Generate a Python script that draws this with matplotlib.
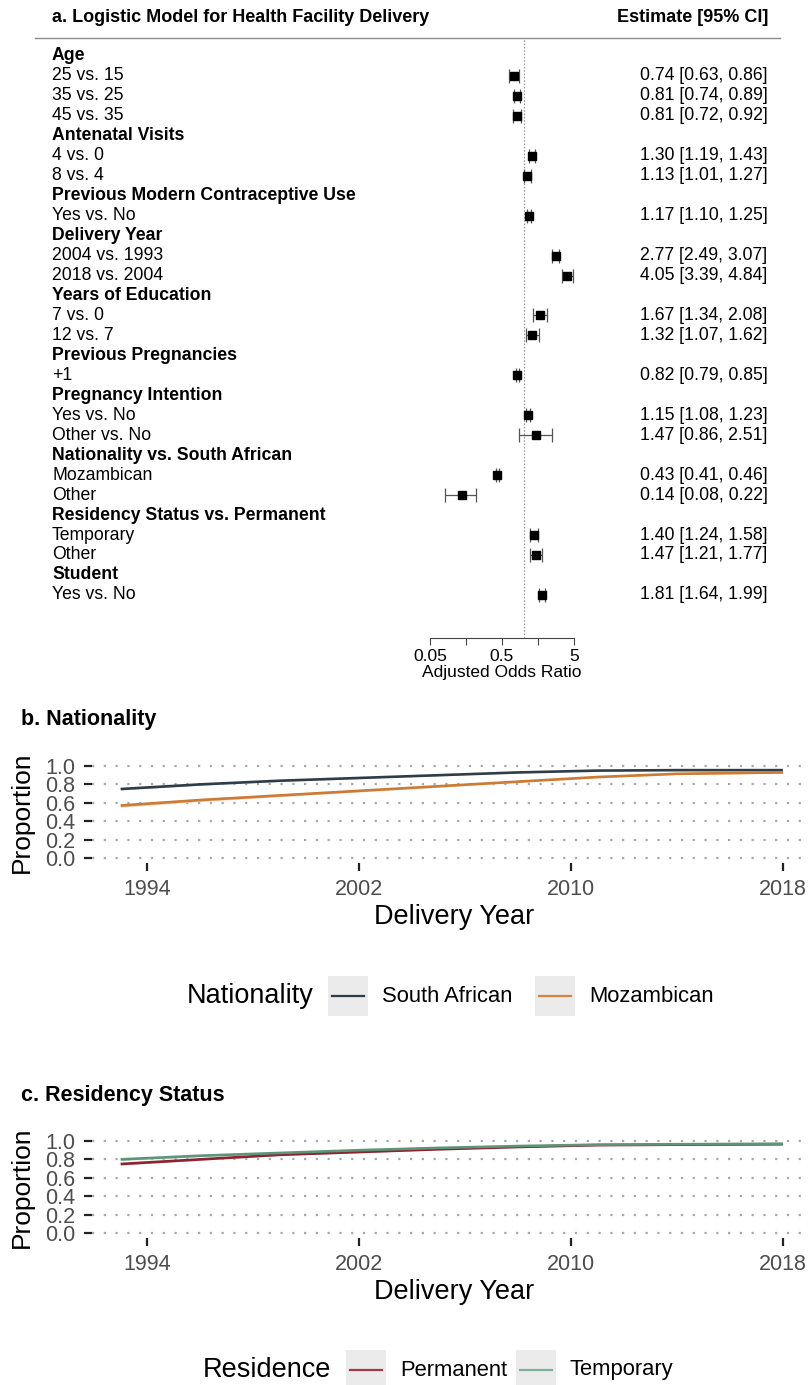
import numpy as np
import matplotlib
matplotlib.use('Agg')
from matplotlib import pyplot as plt
from matplotlib.lines import Line2D
from matplotlib.patches import Rectangle
from matplotlib.transforms import blended_transform_factory

W, H = 809, 1385

# ---- panel a data ----
row_labels = ['Age', '25 vs. 15', '35 vs. 25', '45 vs. 35',
              'Antenatal Visits', '4 vs. 0', '8 vs. 4',
              'Previous Modern Contraceptive Use', 'Yes vs. No',
              'Delivery Year', '2004 vs. 1993', '2018 vs. 2004',
              'Years of Education', '7 vs. 0', '12 vs. 7',
              'Previous Pregnancies', '+1',
              'Pregnancy Intention', 'Yes vs. No', 'Other vs. No',
              'Nationality vs. South African', 'Mozambican', 'Other',
              'Residency Status vs. Permanent', 'Temporary', 'Other',
              'Student', 'Yes vs. No']
is_header = [1, 0, 0, 0, 1, 0, 0, 1, 0, 1, 0, 0, 1, 0, 0, 1, 0, 1, 0, 0, 1, 0, 0, 1, 0, 0, 1, 0]
est = [np.nan, 0.74, 0.81, 0.81, np.nan, 1.30, 1.13, np.nan, 1.17, np.nan, 2.77, 4.05,
       np.nan, 1.67, 1.32, np.nan, 0.82, np.nan, 1.15, 1.47, np.nan, 0.43, 0.14,
       np.nan, 1.40, 1.47, np.nan, 1.81]
lo = [np.nan, 0.63, 0.74, 0.72, np.nan, 1.19, 1.01, np.nan, 1.10, np.nan, 2.49, 3.39,
      np.nan, 1.34, 1.07, np.nan, 0.79, np.nan, 1.08, 0.86, np.nan, 0.41, 0.08,
      np.nan, 1.24, 1.21, np.nan, 1.64]
hi = [np.nan, 0.86, 0.89, 0.92, np.nan, 1.43, 1.27, np.nan, 1.25, np.nan, 3.07, 4.84,
      np.nan, 2.08, 1.62, np.nan, 0.85, np.nan, 1.23, 2.51, np.nan, 0.46, 0.22,
      np.nan, 1.58, 1.77, np.nan, 1.99]
or_ticks = [0.05, 0.158, 0.5, 1.58, 5]
or_tick_labels = ['0.05', '', '0.5', '', '5']

# ---- panel b/c data ----
years = [1993, 1996, 1999, 2002, 2005, 2008, 2011, 2014, 2018]
south_african = [0.75, 0.80, 0.84, 0.87, 0.90, 0.93, 0.95, 0.955, 0.955]
south_african_ci = [0.012, 0.01, 0.008, 0.007, 0.006, 0.005, 0.004, 0.004, 0.005]
mozambican = [0.57, 0.63, 0.68, 0.73, 0.78, 0.83, 0.88, 0.915, 0.93]
mozambican_ci = [0.018, 0.016, 0.014, 0.012, 0.01, 0.009, 0.008, 0.007, 0.008]
permanent = [0.75, 0.80, 0.85, 0.88, 0.91, 0.935, 0.955, 0.96, 0.965]
permanent_ci = [0.012, 0.01, 0.008, 0.007, 0.006, 0.005, 0.004, 0.004, 0.005]
temporary = [0.80, 0.84, 0.87, 0.90, 0.925, 0.945, 0.96, 0.965, 0.97]
temporary_ci = [0.012, 0.01, 0.008, 0.007, 0.006, 0.005, 0.004, 0.004, 0.005]
year_ticks = [1994, 2002, 2010, 2018]
prop_ticks = [0.0, 0.2, 0.4, 0.6, 0.8, 1.0]

plt.rcParams['font.family'] = ['Liberation Sans', 'DejaVu Sans']


def fx(px):
    return px / W


def fy(py):
    return 1 - py / H


fig = plt.figure(figsize=(W / 100, H / 100), dpi=100)
fig.patch.set_facecolor('white')

# ================= panel a: forest plot =================
ax = fig.add_axes([fx(430), fy(638), fx(574) - fx(430), (638 - 38) / H])
ax.set_xscale('log')
ax.set_xlim(0.05, 5)
rows = np.arange(len(row_labels))
ax.set_ylim(29.16, -0.9)
for s in ['top', 'left', 'right']:
    ax.spines[s].set_visible(False)
ax.spines['bottom'].set_color('#444444')
ax.set_yticks([])
ax.set_xticks(or_ticks)
ax.set_xticklabels(or_tick_labels, fontsize=12.5)
ax.minorticks_off()
ax.tick_params(axis='x', length=5, color='#444444', pad=3)
ax.set_xlabel('Adjusted Odds Ratio', fontsize=12.5, labelpad=1)
ax.patch.set_alpha(0)

ax.axvline(1, ls=(0, (1.5, 1.5)), color='#999999', lw=0.8, zorder=1)
e = np.array(est)
ax.errorbar(e, rows, xerr=[e - np.array(lo), np.array(hi) - e], fmt='none',
            ecolor='#555555', elinewidth=0.9, capsize=5, capthick=0.9,
            zorder=2, clip_on=False)
ax.plot(e, rows, 's', color='black', ms=6, zorder=3, clip_on=False)

tr = blended_transform_factory(fig.transFigure, ax.transData)
for i, lab in enumerate(row_labels):
    ax.text(fx(52), i, lab, transform=tr, fontsize=12.7, va='center', ha='left',
            fontweight='bold' if is_header[i] else 'normal', clip_on=False)
    if not is_header[i]:
        ax.text(fx(640), i, '{:.2f} [{:.2f}, {:.2f}]'.format(est[i], lo[i], hi[i]),
                transform=tr, fontsize=12.7, va='center', ha='left', clip_on=False)

fig.text(fx(52), fy(17), 'a. Logistic Model for Health Facility Delivery',
         fontweight='bold', fontsize=13, va='center', ha='left')
fig.text(fx(768), fy(17), 'Estimate [95% CI]', fontweight='bold',
         fontsize=13, va='center', ha='right')
fig.add_artist(Line2D([fx(35), fx(780)], [fy(38), fy(38)], transform=fig.transFigure,
                      color='#8a8a8a', lw=1))


# ================= panels b and c =================
def trend_panel(top_px, title, series, legend_title, legend_layout):
    one_px = top_px + 46
    zero_px = one_px + 92
    pad = 0.05 * 92
    a = fig.add_axes([fx(92), fy(zero_px + pad), fx(816) - fx(92), (92 + 2 * pad) / H])
    a.set_xlim(1991.92, 2019.25)
    a.set_ylim(-0.05, 1.05)
    for s in a.spines.values():
        s.set_visible(False)
    a.set_yticks(prop_ticks)
    a.set_yticklabels(['{:.1f}'.format(t) for t in prop_ticks])
    a.set_xticks(year_ticks)
    a.tick_params(axis='both', length=6, width=1.6, color='#222222',
                  labelcolor='#4d4d4d', labelsize=15.5)
    a.tick_params(axis='y', pad=6)
    a.tick_params(axis='x', pad=6)
    a.grid(axis='y', color='#a8a8a8', lw=1.6, ls=(0, (1, 4.3)))
    a.set_axisbelow(True)
    for yv, ci, col, light in series:
        y = np.array(yv)
        c = np.array(ci)
        a.fill_between(years, y - c, y + c, color=light, lw=0, zorder=2)
        a.plot(years, y, color=col, lw=1.9, zorder=3, solid_capstyle='butt')
    a.set_xlabel('Delivery Year', fontsize=19.5, labelpad=3)
    fig.text(fx(22), fy((one_px + zero_px) / 2), 'Proportion', rotation=90,
             fontsize=19, va='center', ha='center')
    fig.text(fx(21), fy(top_px), title, fontweight='bold',
             fontsize=15.5, va='center', ha='left')

    # legend
    (ly, tx, entries) = legend_layout
    fig.text(fx(tx), fy(ly), legend_title, fontsize=19.5, va='center', ha='right')
    for (bx, lab, col) in entries:
        fig.add_artist(Rectangle((fx(bx), fy(ly + 20)), 40 / W, 40 / H,
                                 transform=fig.transFigure, color='#ebebeb', lw=0))
        fig.add_artist(Line2D([fx(bx + 4), fx(bx + 36)], [fy(ly), fy(ly)],
                              transform=fig.transFigure, color=col, lw=1.6))
        fig.text(fx(bx + 54), fy(ly), lab, fontsize=15.8, va='center', ha='left')
    return a


trend_panel(720, 'b. Nationality',
            [(south_african, south_african_ci, '#2f3d48', '#c9d3dc'),
             (mozambican, mozambican_ci, '#cd7a35', '#f3d2b3')],
            'Nationality',
            (996, 314, [(328, 'South African', '#2f3d48'),
                        (535, 'Mozambican', '#d6843f')]))

trend_panel(1095, 'c. Residency Status',
            [(permanent, permanent_ci, '#8c2331', '#e7c3c7'),
             (temporary, temporary_ci, '#5f9479', '#c8ded1')],
            'Residence',
            (1370, 331, [(346, 'Permanent', '#a33a47'),
                         (516, 'Temporary', '#7fae98')]))

fig.savefig('out.png', dpi=100)
